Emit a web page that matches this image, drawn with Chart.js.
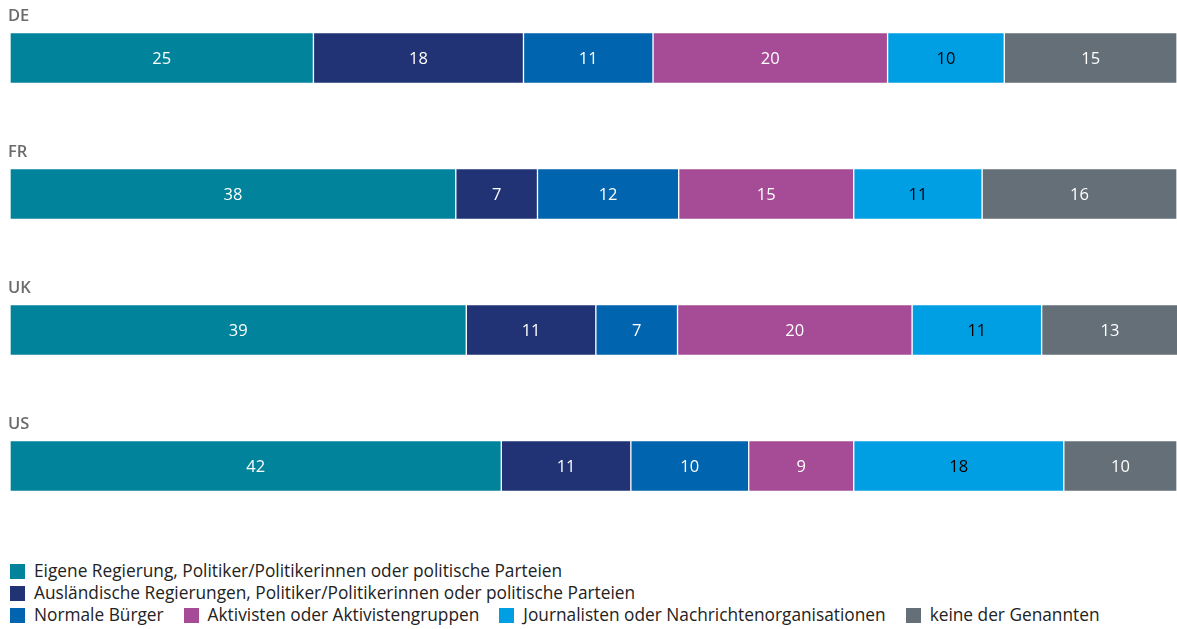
<!DOCTYPE html>
<html lang="de">
<head>
  <meta charset="UTF-8" />
  <title>Quellen von Desinformation</title>
  <script src="https://cdn.jsdelivr.net/npm/chart.js"></script>
  <style>
    html, body { margin: 0; padding: 0; background: #fff; }
    body { width: 1177px; height: 629px; position: relative; overflow: hidden; font-family: "Open Sans", sans-serif; }
    .chart-box { position: absolute; left: 0; top: 0; width: 1177px; height: 540px; }
    .legend { position: absolute; left: 10px; top: 560px; font-size: 17.3px; color: #222; line-height: 22px; }
    .legend-row { display: flex; align-items: center; white-space: nowrap; }
    .legend-item { display: flex; align-items: center; margin-right: 20px; }
    .swatch { width: 15px; height: 15px; margin-right: 9px; display: inline-block; }
  </style>
</head>
<body>
  <div class="chart-box"><canvas id="chart"></canvas></div>
  <div class="legend" id="legend"></div>

  <script>
    // categories
    const countries = ['DE', 'FR', 'UK', 'US'];

    const seriesNames = [
      'Eigene Regierung, Politiker/Politikerinnen oder politische Parteien',
      'Ausländische Regierungen, Politiker/Politikerinnen oder politische Parteien',
      'Normale Bürger',
      'Aktivisten oder Aktivistengruppen',
      'Journalisten oder Nachrichtenorganisationen',
      'keine der Genannten'
    ];
    const seriesColors = ['#00839b', '#213375', '#0064ae', '#a64b95', '#009fe3', '#646f78'];
    const labelColors = ['#fff', '#fff', '#fff', '#fff', '#000', '#fff'];

    // printed numbers, per series (DE, FR, UK, US)
    const eigeneLabels = [25, 38, 39, 42];
    const auslandLabels = [18, 7, 11, 11];
    const buergerLabels = [11, 12, 7, 10];
    const aktivistenLabels = [20, 15, 20, 9];
    const journalistenLabels = [10, 11, 11, 18];
    const keineLabels = [15, 16, 13, 10];

    // bar shares as drawn (percent of bar length)
    const eigene = [26.0, 38.2, 39.1, 42.1];
    const ausland = [18.0, 7.0, 11.1, 11.1];
    const buerger = [11.1, 12.1, 7.0, 10.1];
    const aktivisten = [20.1, 15.0, 20.1, 9.0];
    const journalisten = [10.0, 11.0, 11.1, 18.0];
    const keine = [14.8, 16.7, 11.7, 9.7];

    const values = [eigene, ausland, buerger, aktivisten, journalisten, keine];
    const labels = [eigeneLabels, auslandLabels, buergerLabels, aktivistenLabels, journalistenLabels, keineLabels];

    const datasets = values.map((v, i) => ({
      label: seriesNames[i],
      data: v,
      valueLabels: labels[i],
      labelColor: labelColors[i],
      backgroundColor: seriesColors[i],
      borderColor: '#fff',
      borderWidth: 1,
      borderSkipped: false,
      barThickness: 51,
      clip: false
    }));

    // numbers inside the segments + country names above the bars
    const barText = {
      id: 'barText',
      afterDatasetsDraw(chart) {
        const ctx = chart.ctx;
        ctx.save();
        ctx.font = '16.5px "Open Sans", sans-serif';
        ctx.textAlign = 'center';
        ctx.textBaseline = 'middle';
        chart.data.datasets.forEach((ds, i) => {
          chart.getDatasetMeta(i).data.forEach((bar, j) => {
            ctx.fillStyle = ds.labelColor;
            ctx.fillText(String(ds.valueLabels[j]), (bar.x + bar.base) / 2, bar.y + 1);
          });
        });
        const yScale = chart.scales.y;
        ctx.font = '600 16.5px "Open Sans", sans-serif';
        ctx.fillStyle = '#6b6b6b';
        ctx.textAlign = 'left';
        ctx.textBaseline = 'alphabetic';
        countries.forEach((c, j) => {
          ctx.fillText(c, chart.chartArea.left - 2, yScale.getPixelForValue(j) - 37);
        });
        ctx.restore();
      }
    };

    new Chart(document.getElementById('chart'), {
      type: 'bar',
      data: { labels: countries, datasets: datasets },
      options: {
        indexAxis: 'y',
        responsive: true,
        maintainAspectRatio: false,
        animation: false,
        layout: { padding: { top: 58, bottom: 74, left: 10, right: 0 } },
        scales: {
          x: { stacked: true, min: 0, max: 100, display: false },
          y: { stacked: true, display: false, offset: false }
        },
        plugins: {
          legend: { display: false },
          tooltip: { enabled: false }
        }
      },
      plugins: [barText]
    });

    // legend rows like the original
    const rows = [[0], [1], [2, 3, 4, 5]];
    const legendEl = document.getElementById('legend');
    rows.forEach(r => {
      const row = document.createElement('div');
      row.className = 'legend-row';
      r.forEach(i => {
        const item = document.createElement('span');
        item.className = 'legend-item';
        item.innerHTML = '<span class="swatch" style="background:' + seriesColors[i] + '"></span>' + seriesNames[i];
        row.appendChild(item);
      });
      legendEl.appendChild(row);
    });
  </script>
</body>
</html>
